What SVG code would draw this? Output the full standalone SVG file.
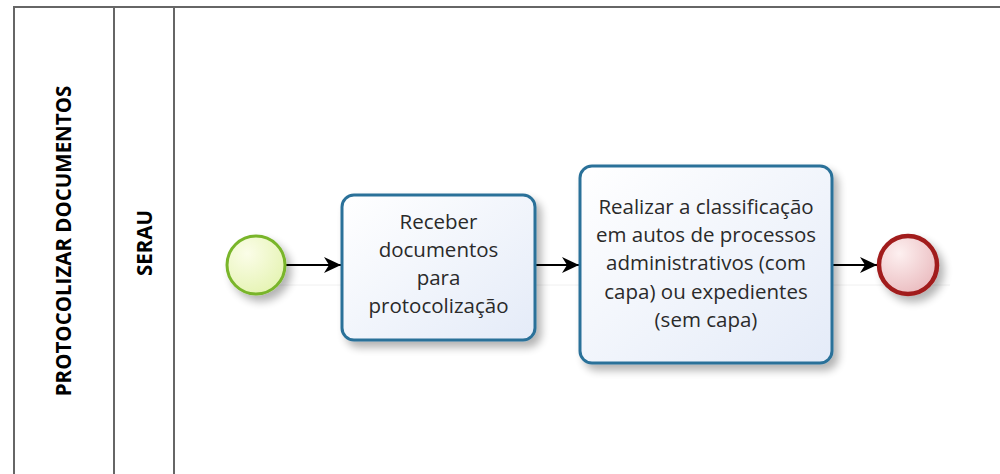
<svg xmlns="http://www.w3.org/2000/svg" width="1000" height="474" viewBox="0 0 1000 474">
<style>
.lane{fill:none;stroke:#666;stroke-width:2}
.lbl{font-family:"Open Sans","Noto Sans",sans-serif;font-weight:bold;font-size:20.5px;fill:#000;text-anchor:middle}
.task{fill:url(#tg);stroke:#2b7199;stroke-width:3}
.tt{font-family:"Open Sans","Noto Sans",sans-serif;font-size:20.5px;fill:#2a2a2a;text-anchor:middle}
.flow{stroke:#000;stroke-width:1.8;fill:none;marker-end:url(#ah)}
</style>
<defs>
<linearGradient id="tg" x1="0" y1="0" x2="1" y2="1"><stop offset="0" stop-color="#ffffff"/><stop offset="1" stop-color="#e4ebf8"/></linearGradient>
<radialGradient id="sg" cx="0.35" cy="0.3" r="0.8"><stop offset="0" stop-color="#fbfde8"/><stop offset="1" stop-color="#e4f3b0"/></radialGradient>
<radialGradient id="eg" cx="0.35" cy="0.3" r="0.8"><stop offset="0" stop-color="#fdf0f0"/><stop offset="1" stop-color="#e9b8bc"/></radialGradient>
<filter id="sh" x="-20%" y="-20%" width="150%" height="150%"><feGaussianBlur in="SourceAlpha" stdDeviation="4"/><feOffset dx="5" dy="6"/><feComponentTransfer><feFuncA type="linear" slope="0.3"/></feComponentTransfer><feMerge><feMergeNode/><feMergeNode in="SourceGraphic"/></feMerge></filter>
<marker id="ah" markerWidth="18" markerHeight="18" refX="17" refY="9" orient="auto" markerUnits="userSpaceOnUse"><path d="M0,1 L17,9 L0,17 L5,9 Z" fill="#000"/></marker>
</defs>
<g id="pool">
<path class="lane" d="M14,474 V7 H1000"/>
<line class="lane" x1="114" y1="7" x2="114" y2="474"/>
<line class="lane" x1="174" y1="7" x2="174" y2="474"/>
<text class="lbl" transform="translate(71,241) rotate(-90)">PROTOCOLIZAR DOCUMENTOS</text>
<text class="lbl" transform="translate(152,243) rotate(-90)">SERAU</text>
</g>
<line x1="240" y1="285" x2="950" y2="285" stroke="#f0f0f0" stroke-width="1"/>
<g id="connectors">
<path class="flow" d="M286,265 H341"/>
<path class="flow" d="M536,265 H579"/>
<path class="flow" d="M833,265 H877"/>
</g>
<g id="start"><circle cx="256" cy="265" r="29" fill="url(#sg)" stroke="#79b52a" stroke-width="3" filter="url(#sh)"/></g>
<g id="task1">
<rect class="task" x="342" y="195" width="193" height="145" rx="12" filter="url(#sh)"/>
<text class="tt" x="438.5" y="229">Receber</text>
<text class="tt" x="438.5" y="257">documentos</text>
<text class="tt" x="438.5" y="285">para</text>
<text class="tt" x="438.5" y="313">protocolização</text>
</g>
<g id="task2">
<rect class="task" x="580" y="166" width="252" height="197" rx="12" filter="url(#sh)"/>
<text class="tt" x="706" y="214">Realizar a classificação</text>
<text class="tt" x="706" y="242">em autos de processos</text>
<text class="tt" x="706" y="270">administrativos (com</text>
<text class="tt" x="706" y="299">capa) ou expedientes</text>
<text class="tt" x="706" y="327">(sem capa)</text>
</g>
<g id="end"><circle cx="908" cy="265" r="29" fill="url(#eg)" stroke="#a11b1b" stroke-width="4.5" filter="url(#sh)"/></g>
</svg>
